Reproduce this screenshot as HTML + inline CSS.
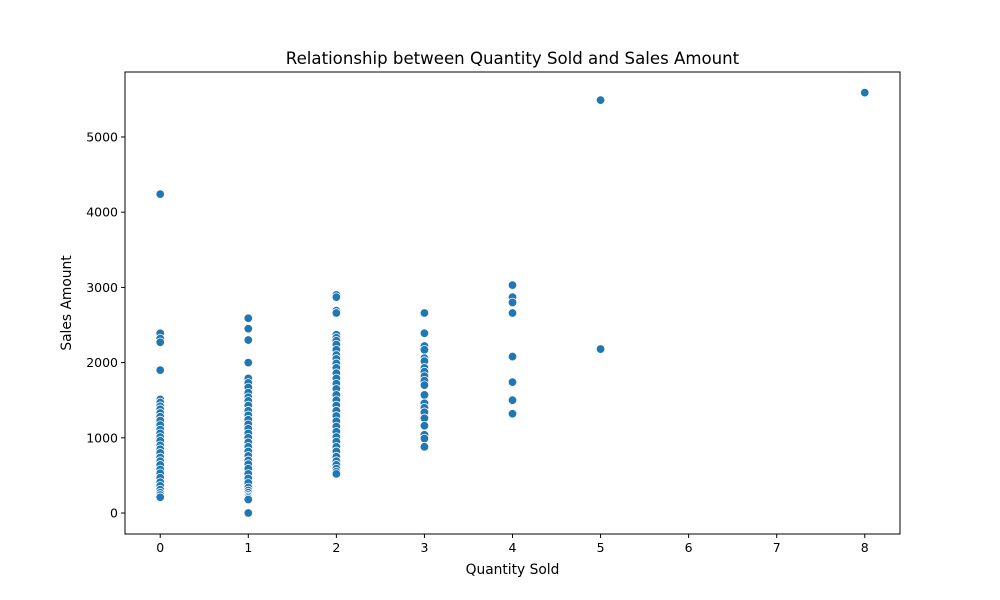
<!DOCTYPE html>
<html><head><meta charset="utf-8"><style>
body{margin:0;background:#fff;}
svg{display:block;font-family:"DejaVu Sans","Liberation Sans",sans-serif;}
</style></head><body>
<svg id="chart" width="1000" height="600"></svg>
<script>
const xTicks=[0,1,2,3,4,5,6,7,8];
const yTicks=[0,1000,2000,3000,4000,5000];
const qty0=[0,0,0,0,0,0,0,0,0,0,0,0,0,0,0,0,0,0,0,0,0,0,0,0,0,0,0,0,0,0,0,0];
const sales0=[4240,2390,2320,2270,1900,1510,1470,1420,1380,1330,1280,1230,1170,1110,1060,1010,960,900,850,800,740,690,640,580,530,470,410,360,310,270,240,210];
const qty1=[1,1,1,1,1,1,1,1,1,1,1,1,1,1,1,1,1,1,1,1,1,1,1,1,1,1,1,1,1,1,1,1,1,1,1,1];
const sales1=[2590,2450,2300,2000,1790,1730,1670,1600,1540,1490,1430,1360,1300,1240,1180,1120,1060,1000,940,880,820,760,700,650,590,520,460,400,340,300,270,240,220,200,180,0];
const qty2=[2,2,2,2,2,2,2,2,2,2,2,2,2,2,2,2,2,2,2,2,2,2,2,2,2,2,2,2,2,2,2,2,2,2,2];
const sales2=[2900,2870,2690,2660,2370,2330,2290,2240,2170,2100,2050,1990,1930,1860,1790,1720,1650,1570,1500,1430,1360,1290,1220,1150,1080,1010,950,880,820,750,690,640,590,550,520];
const qty3=[3,3,3,3,3,3,3,3,3,3,3,3,3,3,3,3,3,3,3,3];
const sales3=[2660,2390,2220,2170,2060,2020,1930,1880,1820,1760,1700,1570,1460,1400,1340,1260,1160,1040,990,880];
const qty4=[4,4,4,4,4,4,4,4];
const sales4=[3030,2870,2800,2660,2080,1740,1500,1320];
const qty5=[5,5,8];
const sales5=[5490,2180,5590];

const L=125,R=900,T=72,B=534;
const xmin=-0.4,xmax=8.4,ymin=-279,ymax=5864;
const xs=v=>L+(v-xmin)/(xmax-xmin)*(R-L);
const ys=v=>B-(v-ymin)/(ymax-ymin)*(B-T);
const svg=document.getElementById('chart');
const NS='http://www.w3.org/2000/svg';
function mk(tag,attrs,parent){const e=document.createElementNS(NS,tag);for(const k in attrs)e.setAttribute(k,attrs[k]);(parent||svg).appendChild(e);return e;}

const pts=mk('g',{});


const allQ=[qty0,qty1,qty2,qty3,qty4,qty5],allS=[sales0,sales1,sales2,sales3,sales4,sales5];
for(let s=0;s<allQ.length;s++){for(let i=0;i<allQ[s].length;i++){
 const c=mk('circle',{cx:xs(allQ[s][i]),cy:ys(allS[s][i]),r:4.3,fill:'#1f77b4',stroke:'#fff','stroke-width':0.8},pts);
 
 
}}

const frame=mk('rect',{x:L,y:T,width:R-L,height:B-T,fill:'none',stroke:'#000','stroke-width':1});



for(const t of xTicks){
 mk('line',{x1:xs(t),x2:xs(t),y1:B,y2:B+4,stroke:'#000'});
 const tx=mk('text',{x:xs(t),y:B+18,'text-anchor':'middle','font-size':12.5});
 tx.textContent=t;
 
 
}
for(const t of yTicks){
 mk('line',{x1:L-4,x2:L,y1:ys(t),y2:ys(t),stroke:'#000'});
 const tx=mk('text',{x:L-7,y:ys(t)+4.5,'text-anchor':'end','font-size':12.5});
 tx.textContent=t;
 
 
}
const title=mk('text',{x:(L+R)/2,y:64,'text-anchor':'middle','font-size':16.6});
title.textContent='Relationship between Quantity Sold and Sales Amount';


const xl=mk('text',{x:(L+R)/2,y:574,'text-anchor':'middle','font-size':13.8});
xl.textContent='Quantity Sold';


const yl=mk('text',{x:0,y:0,'text-anchor':'middle','font-size':13.8,transform:`translate(71,${(T+B)/2}) rotate(-90)`});
yl.textContent='Sales Amount';


</script>
</body></html>
